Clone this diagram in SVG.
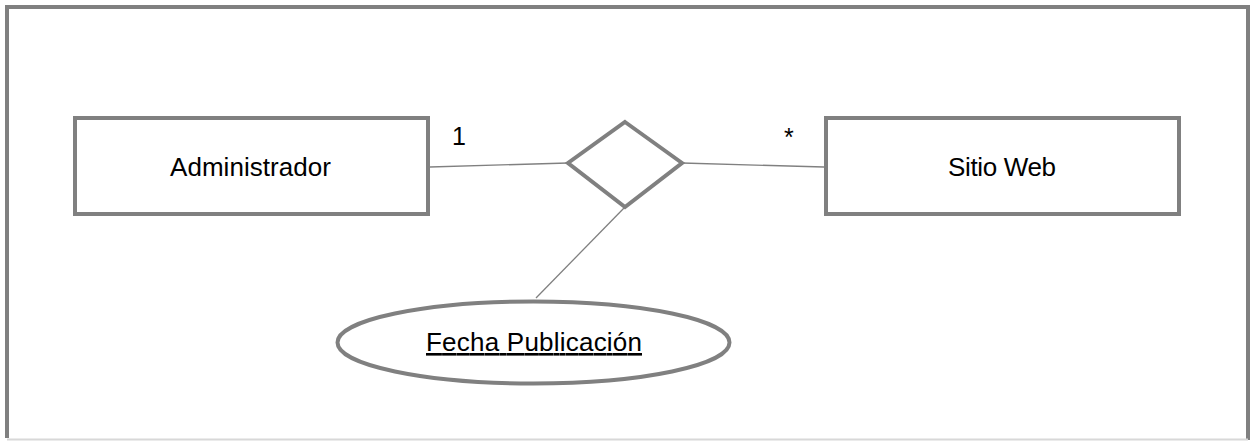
<svg xmlns="http://www.w3.org/2000/svg" width="1252" height="442" viewBox="0 0 1252 442">
<style>
.box{fill:#fff;stroke:#808080;stroke-width:4}
.conn{stroke:#808080;stroke-width:1.3;fill:none}
.lbl{font-family:"Liberation Sans",Arial,sans-serif;font-size:26px;fill:#000}
.card{font-family:"Liberation Sans",Arial,sans-serif;font-size:25px;fill:#000}
</style>
<rect width="1252" height="442" fill="#fff"/>
<g id="frame">
<path d="M7,438 V7 H1248 V440" fill="none" stroke="#808080" stroke-width="4"/>
<line x1="7" y1="439.5" x2="1248" y2="439.5" stroke="#d8d8d8" stroke-width="2"/>
</g>
<g id="connectors">
<line class="conn" x1="430" y1="167" x2="568" y2="163"/>
<line class="conn" x1="682" y1="163" x2="824" y2="167"/>
<line class="conn" x1="625" y1="207" x2="536" y2="298"/>
</g>
<g id="administrador">
<rect class="box" x="75" y="118" width="353" height="96"/>
<text class="lbl" x="170" y="176" textLength="161" lengthAdjust="spacing">Administrador</text>
</g>
<g id="sitio-web">
<rect class="box" x="826" y="118" width="353" height="96"/>
<text class="lbl" x="948" y="176" textLength="108" lengthAdjust="spacing">Sitio Web</text>
</g>
<g id="relacion">
<polygon class="box" points="625,122 682,163 625,207 568,163"/>
</g>
<g id="fecha-publicacion">
<ellipse class="box" cx="533.5" cy="342.5" rx="196" ry="41"/>
<text class="lbl" x="426" y="351" textLength="216" lengthAdjust="spacing" text-decoration="underline">Fecha Publicación</text>
</g>
<g id="cardinalidades">
<text class="card" x="452" y="145">1</text>
<text class="card" x="784" y="146">*</text>
</g>
</svg>
